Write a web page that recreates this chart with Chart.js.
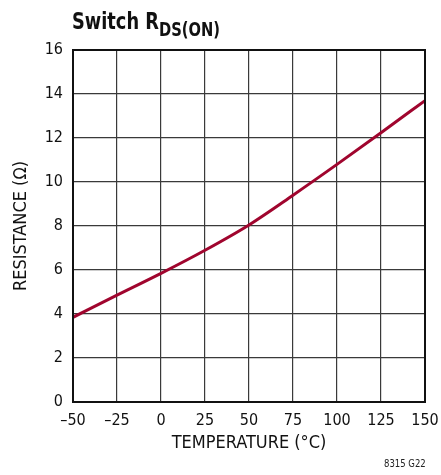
<!DOCTYPE html>
<html>
<head>
<meta charset="utf-8">
<script src="https://cdn.jsdelivr.net/npm/chart.js@4/dist/chart.umd.min.js"></script>
<style>
  html, body { margin: 0; padding: 0; background: #fff; }
  #wrap { position: relative; width: 441px; height: 475px; overflow: hidden; }
  #c { position: absolute; left: 0; top: 0; }
  .ttl { position: absolute; left: 72px; top: 10px; font-family: 'Liberation Sans Narrow', 'DejaVu Sans Condensed', sans-serif; font-weight: bold; font-size: 23px; line-height: 1; color: #111; white-space: nowrap; transform: scaleX(0.86); transform-origin: left top; }
  .ttl span { font-size: 19px; position: relative; top: 7px; }
  .note { position: absolute; left: 384px; top: 458px; font-family: 'Liberation Sans Narrow', 'DejaVu Sans Condensed', sans-serif; font-size: 11px; line-height: 1; color: #222; white-space: nowrap; transform: scaleX(0.86); transform-origin: left top; }
</style>
</head>
<body>
<div id="wrap">
  <canvas id="c" width="441" height="475"></canvas>
  <div class="ttl">Switch R<span>DS(ON)</span></div>
  <div class="note">8315 G22</div>
</div>
<script>
const temperatures = [-50, -25, 0, 25, 50, 75, 100, 125, 150];
const resistance = [3.85, 4.86, 5.85, 6.9, 8.05, 9.4, 10.8, 12.24, 13.7];
const xTickValues = [-50, -25, 0, 25, 50, 75, 100, 125, 150];
const xTickLabels = ['–50', '–25', '0', '25', '50', '75', '100', '125', '150'];
const yTickLabels = ['0', '2', '4', '6', '8', '10', '12', '14', '16'];

const FONT = "'Liberation Sans Narrow', 'DejaVu Sans Condensed', sans-serif";

const framePlugin = {
  id: 'frame',
  afterDraw(chart) {
    const a = chart.chartArea, ctx = chart.ctx;
    ctx.save();
    ctx.strokeStyle = '#111';
    ctx.lineWidth = 2;
    ctx.strokeRect(a.left, a.top, a.right - a.left, a.bottom - a.top);
    ctx.restore();
  }
};

new Chart(document.getElementById('c'), {
  type: 'line',
  data: {
    datasets: [{
      data: temperatures.map((t, i) => ({ x: t, y: resistance[i] })),
      borderColor: '#a0052e',
      borderWidth: 3,
      pointRadius: 0,
      cubicInterpolationMode: 'monotone',
      fill: false
    }]
  },
  options: {
    responsive: false,
    animation: false,
    layout: { padding: { top: 50, right: 16, bottom: 0, left: 0 } },
    plugins: { legend: { display: false }, tooltip: { enabled: false } },
    scales: {
      x: {
        type: 'linear',
        min: -50, max: 150,
        afterBuildTicks(scale) { scale.ticks = xTickValues.map(v => ({ value: v })); },
        afterFit(scale) { scale.height = 73; scale.paddingLeft = 0; scale.paddingRight = 0; },
        grid: { color: '#3a3a3a', lineWidth: 1.2, drawTicks: false },
        border: { display: false },
        ticks: {
          padding: 9,
          color: '#111',
          font: { family: FONT, size: 16 },
          maxRotation: 0,
          autoSkip: false,
          callback: (v) => xTickLabels[xTickValues.indexOf(v)]
        },
        title: {
          display: true,
          text: 'TEMPERATURE (°C)',
          color: '#111',
          font: { family: FONT, size: 18 },
          padding: { top: 0, bottom: 21 }
        }
      },
      y: {
        min: 0, max: 16,
        ticks: {
          stepSize: 2,
          padding: 10,
          color: '#111',
          font: { family: FONT, size: 16 },
          callback: (v) => yTickLabels[v / 2]
        },
        afterFit(scale) { scale.width = 73; scale.paddingTop = 0; scale.paddingBottom = 0; },
        grid: { color: '#3a3a3a', lineWidth: 1.2, drawTicks: false },
        border: { display: false },
        title: {
          display: true,
          text: 'RESISTANCE (Ω)',
          color: '#111',
          font: { family: FONT, size: 18 },
          padding: { top: 11, bottom: 0 }
        }
      }
    }
  },
  plugins: [framePlugin]
});
</script>
</body>
</html>
